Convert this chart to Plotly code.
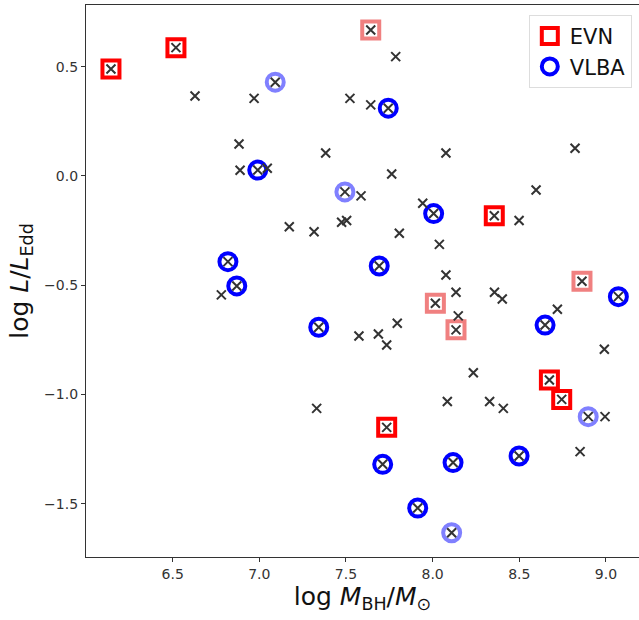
import plotly.graph_objects as go

# ---- data ----
evn_x = [6.144, 6.519, 8.356, 8.674, 8.745, 7.735]
evn_y = [0.489, 0.587, -0.182, -0.933, -1.022, -1.150]

evn_faint_x = [7.643, 8.016, 8.135, 8.862]
evn_faint_y = [0.668, -0.582, -0.704, -0.482]

vlba_x = [7.744, 6.991, 8.006, 6.819, 6.870, 7.692, 7.343, 8.649, 9.072, 7.712, 8.118, 8.499, 7.914]
vlba_y = [0.310, 0.027, -0.172, -0.392, -0.503, -0.412, -0.692, -0.682, -0.552, -1.319, -1.311, -1.281, -1.519]

vlba_faint_x = [7.092, 7.494, 8.898, 8.110]
vlba_faint_y = [0.429, -0.073, -1.101, -1.632]

other_x = [6.629, 6.970, 7.523, 6.883, 7.383, 6.889, 7.046, 7.587, 7.787, 7.643,
           8.077, 8.822, 7.764, 8.597, 7.943, 7.173, 7.316, 7.475, 7.504, 6.781,
           7.575, 8.499, 7.808, 8.039, 8.077, 8.135, 8.357, 8.402, 8.720, 8.148,
           7.796, 7.687, 7.735, 8.991, 8.235, 7.331, 8.085, 8.329, 8.408, 8.995,
           8.851]
other_y = [0.366, 0.355, 0.355, 0.146, 0.105, 0.026, 0.035, -0.091, 0.546, 0.325,
           0.105, 0.127, 0.009, -0.064, -0.125, -0.232, -0.255, -0.212, -0.204, -0.544,
           -0.732, -0.204, -0.262, -0.313, -0.453, -0.532, -0.532, -0.563, -0.610, -0.640,
           -0.674, -0.723, -0.773, -0.793, -0.900, -1.063, -1.032, -1.032, -1.063, -1.101,
           -1.261]

x_tickvals = [6.5, 7.0, 7.5, 8.0, 8.5, 9.0]
x_ticktext = ["6.5", "7.0", "7.5", "8.0", "8.5", "9.0"]
y_tickvals = [-1.5, -1.0, -0.5, 0.0, 0.5]
y_ticktext = ["\u22121.5", "\u22121.0", "\u22120.5", "0.0", "0.5"]

all_x = evn_x + evn_faint_x + vlba_x + vlba_faint_x + other_x
all_y = evn_y + evn_faint_y + vlba_y + vlba_faint_y + other_y

FONT = "DejaVu Sans"
fig = go.Figure()

def ring(x, y, symbol, color, name, show):
    return go.Scatter(
        x=x, y=y, mode="markers", name=name, showlegend=show,
        marker=dict(symbol=symbol, size=17, color="rgba(255,255,255,1)",
                    line=dict(color=color, width=4)),
        hoverinfo="skip",
    )

fig.add_trace(ring(evn_faint_x, evn_faint_y, "square", "rgba(240,128,128,1)", "EVN faint", False))
fig.add_trace(ring(vlba_faint_x, vlba_faint_y, "circle", "rgba(128,128,255,1)", "VLBA faint", False))
fig.add_trace(ring(evn_x, evn_y, "square", "#ff0000", "EVN", True))
fig.add_trace(ring(vlba_x, vlba_y, "circle", "#0000ff", "VLBA", True))

fig.add_trace(go.Scatter(
    x=all_x, y=all_y, mode="markers", showlegend=False, name="all",
    marker=dict(symbol="x-thin", size=9, color="#333333",
                line=dict(color="#333333", width=2)),
))

fig.update_layout(
    width=639, height=620,
    margin=dict(l=86, r=0, t=5, b=63),
    paper_bgcolor="white", plot_bgcolor="white",
    font=dict(family=FONT, color="#262626"),
    legend=dict(
        x=0.987, y=0.982, xanchor="right", yanchor="top",
        bgcolor="white", bordercolor="#dddddd", borderwidth=1,
        font=dict(size=21, family=FONT, color="#111111"),
        itemsizing="trace", tracegroupgap=4,
    ),
)
fig.update_xaxes(
    range=[6.0, 9.191], showgrid=False, zeroline=False,
    showline=True, linecolor="#333333", linewidth=1.2, mirror=True,
    ticks="outside", ticklen=4, tickcolor="#333333",
    tickvals=x_tickvals, ticktext=x_ticktext,
    tickfont=dict(size=14, family=FONT, color="#333333"),
    title=dict(text="log <i>M</i><sub>BH</sub>/<i>M</i><sub>\u2299</sub>",
               font=dict(size=25, family=FONT, color="#111111"), standoff=6),
)
fig.update_yaxes(
    range=[-1.743, 0.782], showgrid=False, zeroline=False,
    showline=True, linecolor="#333333", linewidth=1.2, mirror=False,
    ticks="outside", ticklen=4, tickcolor="#333333",
    tickvals=y_tickvals, ticktext=y_ticktext,
    tickfont=dict(size=14, family=FONT, color="#333333"),
    title=dict(text="log <i>L</i>/<i>L</i><sub>Edd</sub>",
               font=dict(size=25, family=FONT, color="#111111"), standoff=8),
)

fig.write_html(
    "out.html",
    config={"displayModeBar": False},
    post_script="document.body.style.margin='0';document.body.style.overflow='hidden';",
)
